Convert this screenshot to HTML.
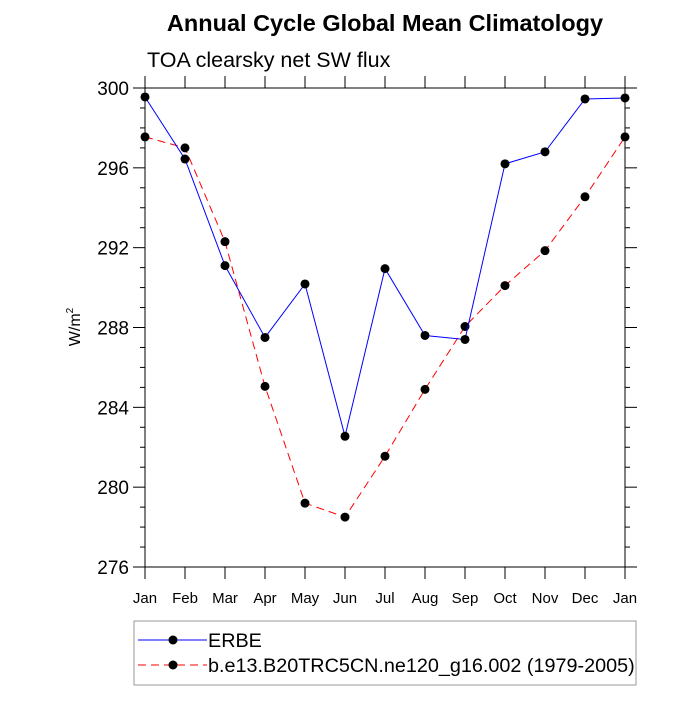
<!DOCTYPE html>
<html><head><meta charset="utf-8"><style>
body{margin:0;background:#fff}
svg text{font-family:"Liberation Sans",sans-serif}
</style></head><body>
<svg id="c" width="700" height="700">
<text x="385" y="31" font-size="23.5" font-weight="bold" text-anchor="middle">Annual Cycle Global Mean Climatology</text>
<text x="147" y="67" font-size="21.5">TOA clearsky net SW flux</text>
<text transform="translate(80,327) rotate(-90)" font-size="16" text-anchor="middle">W/m<tspan dy="-7" font-size="10">2</tspan></text>
<g id="axes"></g><g id="series"></g>
<rect x="134" y="621" width="502" height="64" fill="none" stroke="#999"/>
<g>
<line x1="138" y1="640" x2="207" y2="640" stroke="#00f"/><circle cx="173" cy="640" r="4.5"/>
<text x="208" y="647" font-size="19.8">ERBE</text></g>
<g>
<line x1="138" y1="665" x2="207" y2="665" stroke="#f00" stroke-dasharray="8,5"/><circle cx="173" cy="665" r="4.5"/>
<text x="208" y="672" font-size="19.8">b.e13.B20TRC5CN.ne120_g16.002 (1979-2005)</text></g>
</svg>
<script>
const months=["Jan","Feb","Mar","Apr","May","Jun","Jul","Aug","Sep","Oct","Nov","Dec","Jan"];
const erbe=[299.55,296.44,291.1,287.5,290.18,282.55,290.95,287.6,287.4,296.2,296.8,299.45,299.5];
const model=[297.55,297.0,292.3,285.05,279.2,278.5,281.55,284.9,288.05,290.1,291.85,294.55,297.55];
const yTicks=[276,280,284,288,292,296,300];
const L=145,R=625,T=88,B=567,yMin=276,yMax=300;
const xs=i=>L+(R-L)*i/(months.length-1);
const ys=v=>B-(B-T)*(v-yMin)/(yMax-yMin);
const NS="http://www.w3.org/2000/svg";
function mk(t,a,p){const e=document.createElementNS(NS,t);for(const k in a)e.setAttribute(k,a[k]);p.appendChild(e);return e;}
const ax=document.getElementById('axes'),se=document.getElementById('series');
const fr=mk('rect',{x:L,y:T,width:R-L,height:B-T,fill:'none',stroke:'#000','stroke-width':1},ax);


for(let v=yMin;v<=yMax;v++){const maj=(v%4===0);const len=maj?12:5;
mk('line',{x1:L-len,x2:L,y1:ys(v),y2:ys(v),stroke:'#000'},ax);
mk('line',{x1:R,x2:R+len,y1:ys(v),y2:ys(v),stroke:'#000'},ax);}
yTicks.forEach(v=>{const t=mk('text',{x:L-16,y:ys(v)+7,'font-size':19,'text-anchor':'end'},ax);t.textContent=v;

});
months.forEach((m,i)=>{const x=xs(i);
mk('line',{x1:x,x2:x,y1:B,y2:B+12,stroke:'#000'},ax);
mk('line',{x1:x,x2:x,y1:T-12,y2:T,stroke:'#000'},ax);
const t=mk('text',{x:x,y:B+36,'font-size':15,'text-anchor':'middle'},ax);t.textContent=m;

});
function draw(vals,col,dash,name){
const pl=mk('polyline',{points:vals.map((v,i)=>xs(i)+','+ys(v)).join(' '),fill:'none',stroke:col,'stroke-width':1,'stroke-dasharray':dash},se);


vals.forEach((v,i)=>{const c=mk('circle',{cx:xs(i),cy:ys(v),r:4.5,fill:'#000'},se);

});}
draw(model,'#f00','8,5','model');
draw(erbe,'#00f','none','erbe');
</script>
</body></html>
